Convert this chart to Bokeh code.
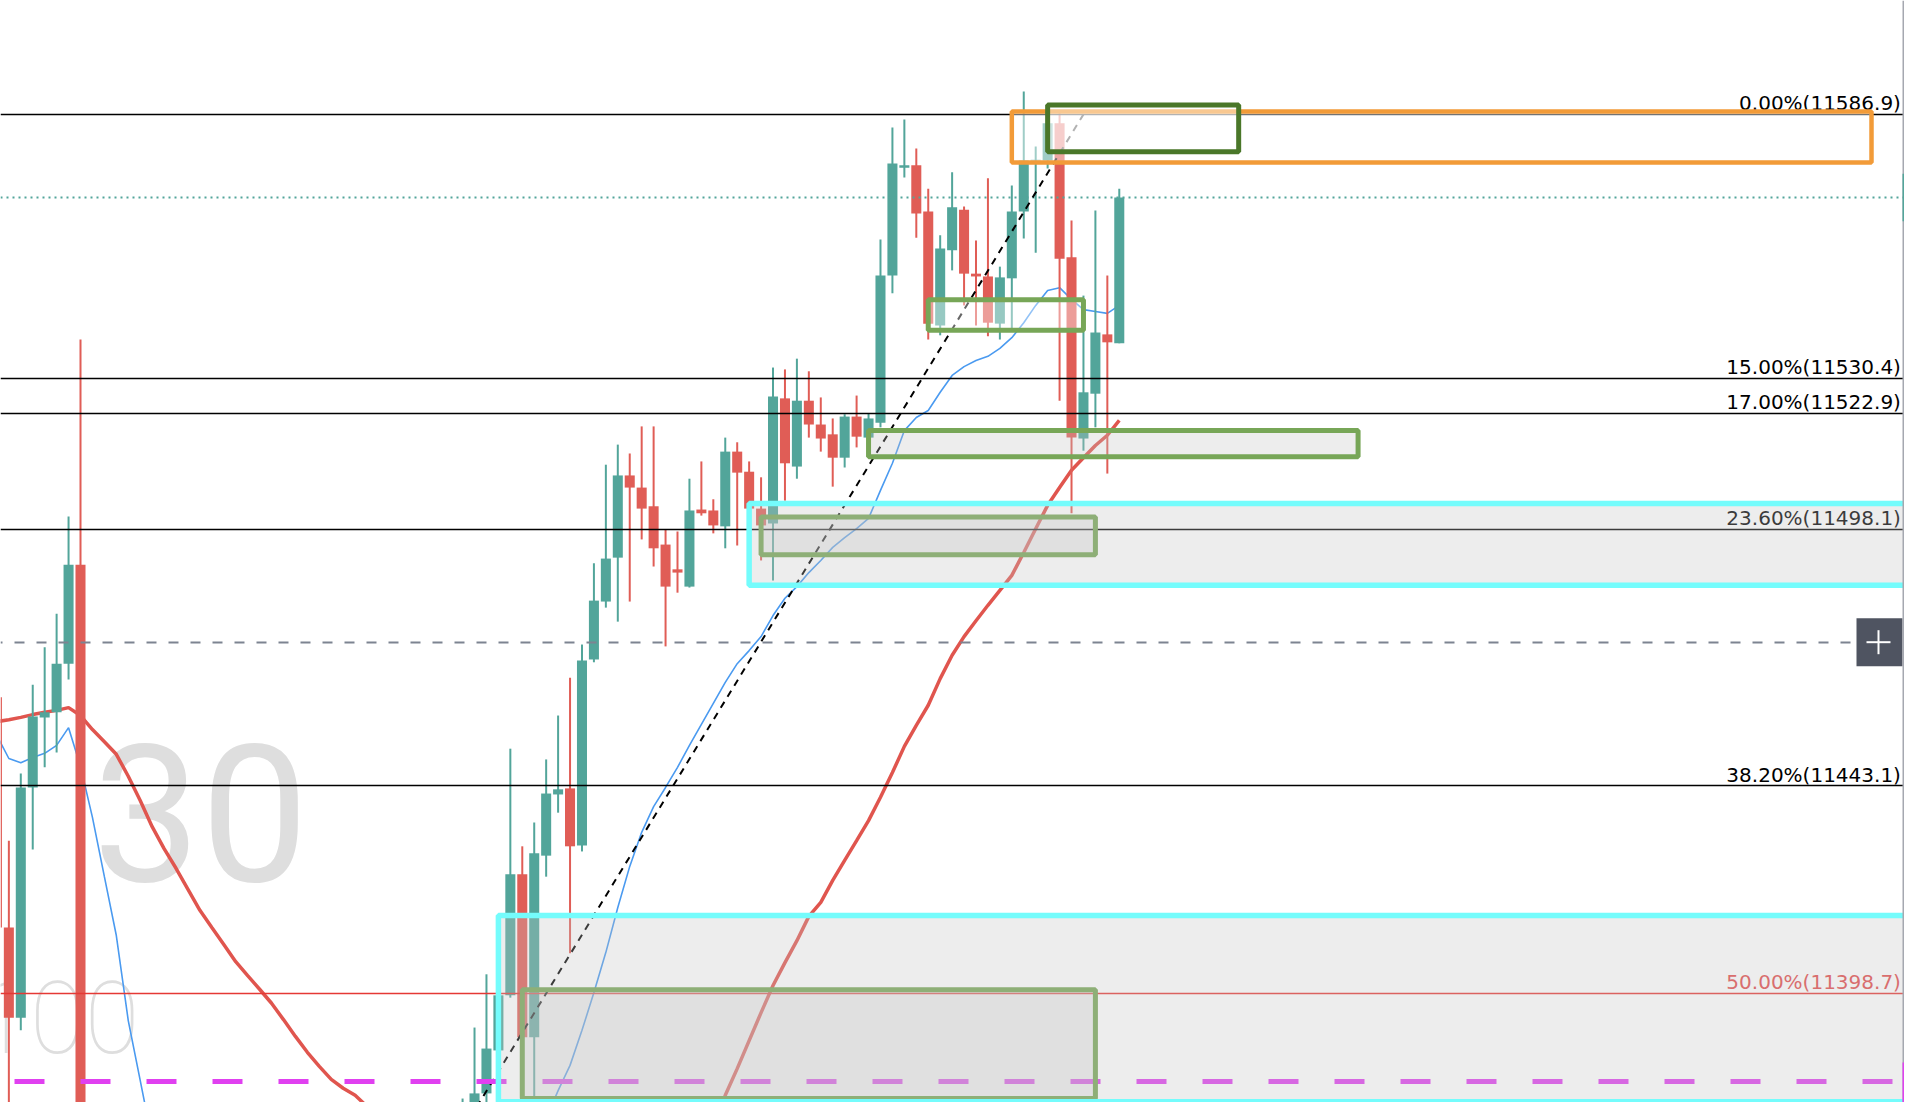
from bokeh.plotting import figure
from bokeh.models import Range1d, ColumnDataSource
from bokeh.embed import file_html
from bokeh.resources import INLINE
from bokeh.core.properties import value

# ---------------- data ----------------
bar_index = [-1, 0, 1, 2, 3, 4, 5, 6] + list(range(38, 94))

open_ = [11462.1, 11412.8, 11393.5, 11442.8, 11457.8, 11458.9, 11469.3, 11490.5,
         11360.0, 11365.0, 11377.3, 11386.5, 11398.3, 11424.2, 11389.3, 11428.2, 11441.3, 11442.6,
         11430.4, 11470.2, 11482.6, 11492.0, 11509.6, 11507.0, 11503.0, 11494.8, 11489.5, 11485.8,
         11502.3, 11502.1, 11498.7, 11514.7, 11510.4, 11502.5, 11499.3, 11526.1, 11511.5, 11525.6,
         11520.5, 11518.4, 11513.4, 11522.2, 11517.7, 11520.9, 11552.4, 11575.5, 11576.0, 11566.1,
         11541.7, 11557.8, 11566.5, 11552.8, 11552.2, 11542.1, 11551.8, 11566.1, 11577.0, 11577.0,
         11585.0, 11556.3, 11517.5, 11527.1, 11539.8, 11537.9]
high = [11465.0, 11431.4, 11445.8, 11464.8, 11472.8, 11480.0, 11500.8, 11538.7,
        11376.2, 11391.4, 11402.8, 11400.4, 11451.1, 11430.2, 11435.3, 11448.8, 11458.2, 11466.3,
        11473.4, 11490.8, 11511.9, 11516.2, 11514.3, 11520.1, 11520.1, 11498.0, 11497.6, 11508.9,
        11512.6, 11504.5, 11517.7, 11516.7, 11512.6, 11509.2, 11532.7, 11532.3, 11534.6, 11531.9,
        11526.3, 11521.8, 11522.7, 11526.7, 11522.9, 11560.1, 11584.1, 11585.8, 11579.6, 11571.0,
        11561.0, 11574.5, 11567.2, 11559.9, 11573.2, 11554.3, 11571.7, 11591.8, 11580.0, 11587.1,
        11587.7, 11564.2, 11548.1, 11566.3, 11552.4, 11571.0]
low = [11410.0, 11370.4, 11390.8, 11429.5, 11447.1, 11450.3, 11465.9, 11330.0,
       11355.0, 11360.0, 11374.1, 11384.3, 11397.8, 11388.6, 11376.4, 11423.7, 11437.4, 11407.3,
       11429.1, 11469.6, 11481.3, 11478.3, 11482.6, 11495.9, 11490.1, 11473.0, 11484.5, 11485.6,
       11501.0, 11497.2, 11494.0, 11494.6, 11502.3, 11491.4, 11487.1, 11504.2, 11508.9, 11517.7,
       11514.7, 11507.2, 11511.3, 11515.6, 11515.6, 11519.9, 11548.6, 11573.4, 11560.5, 11538.7,
       11539.6, 11553.5, 11546.0, 11541.7, 11539.4, 11538.7, 11541.1, 11560.3, 11557.3, 11575.3,
       11525.6, 11501.5, 11514.9, 11519.9, 11510.0, 11537.9]
close = [11412.8, 11393.5, 11442.8, 11458.0, 11458.9, 11469.3, 11490.5, 11340.0,
         11370.0, 11377.3, 11386.9, 11398.3, 11424.2, 11389.3, 11428.7, 11441.5, 11442.4, 11430.2,
         11470.0, 11482.8, 11491.8, 11509.6, 11507.0, 11502.5, 11494.0, 11485.8, 11488.8, 11502.1,
         11501.5, 11498.9, 11514.7, 11510.2, 11502.5, 11498.9, 11526.5, 11512.2, 11525.6, 11520.5,
         11517.5, 11513.4, 11522.2, 11517.9, 11521.8, 11552.4, 11576.4, 11576.0, 11565.7, 11542.1,
         11558.2, 11567.0, 11552.8, 11552.2, 11542.3, 11552.0, 11566.1, 11577.0, 11577.2, 11585.0,
         11556.0, 11517.7, 11527.4, 11540.2, 11538.1, 11569.1]

# moving averages (fast = thin blue, slow = thick red), visible stretches
ma_fast_idx_a = list(range(-1, 13))
ma_fast_a = [11453.9, 11449.0, 11448.1, 11449.2, 11450.1, 11451.8, 11455.6, 11447.3,
             11436.4, 11423.7, 11411.1, 11392.9, 11380.1, 11367.2]
ma_fast_idx_b = list(range(44, 94))
ma_fast_b = [11367.2, 11371.9, 11377.9, 11383.3, 11390.8, 11398.9, 11407.5, 11417.1, 11425.9, 11433.2,
             11438.7, 11442.8, 11447.1, 11451.8, 11456.3, 11460.8, 11465.3, 11469.3, 11472.1, 11475.1,
             11479.6, 11483.3, 11485.8, 11488.8, 11491.4, 11494.2, 11496.3, 11498.2, 11500.4, 11506.4,
             11512.2, 11519.2, 11522.0, 11523.5, 11527.4, 11531.0, 11532.9, 11534.2, 11535.1, 11536.8,
             11539.1, 11542.3, 11546.0, 11549.2, 11549.8, 11547.3, 11545.1, 11544.7, 11544.3, 11546.0]
ma_slow_idx_a = list(range(-1, 33))
ma_slow_a = [11456.9, 11457.3, 11457.8, 11458.4, 11458.9, 11459.3, 11459.9, 11458.2, 11455.2, 11452.6,
             11449.9, 11445.2, 11440.0, 11434.4, 11429.7, 11425.5, 11421.0, 11416.5, 11412.8, 11409.2,
             11405.5, 11402.5, 11399.6, 11396.6, 11393.1, 11389.5, 11386.1, 11383.1, 11380.3, 11378.4,
             11376.9, 11374.5, 11371.9, 11369.4]
ma_slow_idx_b = list(range(59, 94))
ma_slow_b = [11370.4, 11376.9, 11382.6, 11388.6, 11394.6, 11400.4, 11405.3, 11410.0, 11415.2, 11418.2,
             11422.9, 11427.2, 11431.4, 11435.7, 11440.7, 11446.0, 11451.6, 11456.1, 11460.4, 11466.1,
             11471.1, 11475.1, 11478.5, 11481.8, 11485.0, 11488.2, 11493.1, 11498.2, 11503.2, 11507.0,
             11510.7, 11513.4, 11516.0, 11518.2, 11521.4]

# fibonacci retracement
fib_high = 11586.9
fib_low = 11210.5
fib_high_idx = 90
fib_low_idx = 0
fib_levels = [0.0, 0.15, 0.17, 0.236, 0.382, 0.5]

# drawn horizontal level and crosshair level
magenta_level = 11379.9
crosshair_level = 11473.9

# rectangles: (left bar, right bar, top price, bottom price)
box_names = ["small_green", "mid_green", "upper_green", "lower_green",
             "upper_cyan", "lower_cyan", "orange", "dark_green"]
box_left = [77, 72, 63, 43, 62, 41, 84, 87]
box_right = [90, 113, 91, 91, 175, 175, 156, 103]
box_top = [11547.2, 11519.2, 11500.7, 11399.5, 11503.6, 11415.4, 11587.5, 11588.9]
box_bottom = [11540.7, 11513.6, 11492.6, 11376.2, 11486.1, 11375.5, 11576.6, 11578.9]

watermark_main = "30"
watermark_sub = "100"

# ---------------- styling ----------------
UP = "#52a59a"
DOWN = "#e05d56"
PX_PER_BAR = 11.94
X0 = -8.36 / PX_PER_BAR
X1 = X0 + 1904 / PX_PER_BAR
Y1 = 11611.28
Y0 = Y1 - 1102 * 0.21409
PX_PER_PT = 1102 / (Y1 - Y0)

p = figure(width=1904, height=1102, output_backend="svg", toolbar_location=None,
           x_range=Range1d(X0, X1), y_range=Range1d(Y0, Y1), min_border=0)
p.axis.visible = False
p.grid.visible = False
p.outline_line_color = None
p.background_fill_color = "white"
p.border_fill_color = "white"

# watermark
p.text(x=[25.1], y=[11423.1], text=[watermark_main], text_align="right", text_baseline="alphabetic",
       y_offset=-67, text_font=value("Roboto"), text_font_size="192px", text_color="#dedede")
p.text(x=[11.3], y=[11386.9], text=[watermark_sub], text_align="right", text_baseline="alphabetic",
       y_offset=-32, text_font=value("Roboto"), text_font_size="100px", text_color="#dedede")

# moving averages
p.line(ma_slow_idx_a, ma_slow_a, line_color="#e0554e", line_width=3.5)
p.line(ma_slow_idx_b, ma_slow_b, line_color="#e0554e", line_width=3.5)
p.line(ma_fast_idx_a, ma_fast_a, line_color="#4a9af0", line_width=1.6)
p.line(ma_fast_idx_b, ma_fast_b, line_color="#4a9af0", line_width=1.6)

# candles
colors = [UP if c >= o else DOWN for o, c in zip(open_, close)]
src = ColumnDataSource(dict(
    x=bar_index, h=high, l=low,
    top=[max(o, c) for o, c in zip(open_, close)],
    bottom=[min(o, c) for o, c in zip(open_, close)],
    color=colors))
p.segment("x", "h", "x", "l", source=src, line_color="color", line_width=2)
p.vbar("x", 0.84, "top", "bottom", source=src, fill_color="color", line_color=None)

# current price line
p.hspan(y=[close[-1]], line_color=UP, line_width=2, line_dash="2 4")

# fibonacci lines, trend line and labels
fib_prices = [fib_high - lv * (fib_high - fib_low) for lv in fib_levels]
fib_colors = ["#000000" if lv != 0.5 else "#e53935" for lv in fib_levels]
fib_labels = ["%.2f%%(%.1f)" % (lv * 100, pr) for lv, pr in zip(fib_levels, fib_prices)]
p.hspan(y=fib_prices, line_color=fib_colors, line_width=1.6)
p.line([fib_low_idx, fib_high_idx], [fib_low, fib_high], line_color="black", line_width=2,
       line_dash="7 6")
p.text(x=[X1 - 0.3] * len(fib_levels), y=fib_prices, text=fib_labels, text_align="right",
       text_baseline="alphabetic", y_offset=-11, text_font=value("DejaVu Sans"),
       text_font_size="20px", text_color=["#000000" if lv != 0.5 else "#e24a4a" for lv in fib_levels])

# magenta level
p.hspan(y=[magenta_level], line_color="#e040f0", line_width=5, line_dash="30 36", line_dash_offset=52)

# rectangles
box_line = ["#77a657", "#77a657", "#77a657", "#77a657", "#74fcfc", "#74fcfc", "#f29b38", "#4a7729"]
box_fill = ["white", "#c4c4c4", "#c4c4c4", "#c4c4c4", "#c4c4c4", "#c4c4c4", "white", "white"]
box_alpha = [0.4, 0.3, 0.3, 0.3, 0.3, 0.3, 0.45, 0.45]
box_lw = [5, 5, 5, 5, 5.5, 5.5, 4.5, 5]
for i in range(len(box_names)):
    p.quad(left=[box_left[i]], right=[box_right[i]], top=[box_top[i]], bottom=[box_bottom[i]],
           fill_color=box_fill[i], fill_alpha=box_alpha[i], line_color=box_line[i],
           line_width=box_lw[i])

# crosshair line and "+" button on the price scale edge
p.hspan(y=[crosshair_level], line_color="#7d8491", line_width=2, line_dash="10 12", line_dash_offset=8)
bl = X1 - 48 / PX_PER_BAR
p.quad(left=[bl], right=[X1 - 2 / PX_PER_BAR], bottom=[crosshair_level - 24 / PX_PER_PT],
       top=[crosshair_level + 24 / PX_PER_PT], fill_color="#4f5461", line_color=None)
cx = X1 - 26 / PX_PER_BAR
p.segment(x0=[cx - 12 / PX_PER_BAR, cx], y0=[crosshair_level, crosshair_level - 12 / PX_PER_PT],
          x1=[cx + 12 / PX_PER_BAR, cx], y1=[crosshair_level, crosshair_level + 12 / PX_PER_PT],
          line_color="white", line_width=2)

# price scale border with label edges
edge = X1 - 1 / PX_PER_BAR
p.vspan(x=[edge], line_color="#a5a8b0", line_width=2)
p.segment(x0=[edge, edge], y0=[close[-1] - 5.1, magenta_level - 6], x1=[edge, edge],
          y1=[close[-1] + 5.1, magenta_level + 4], line_color=[UP, "#e040f0"], line_width=2)

open("out.html", "w").write(file_html(p, INLINE))
